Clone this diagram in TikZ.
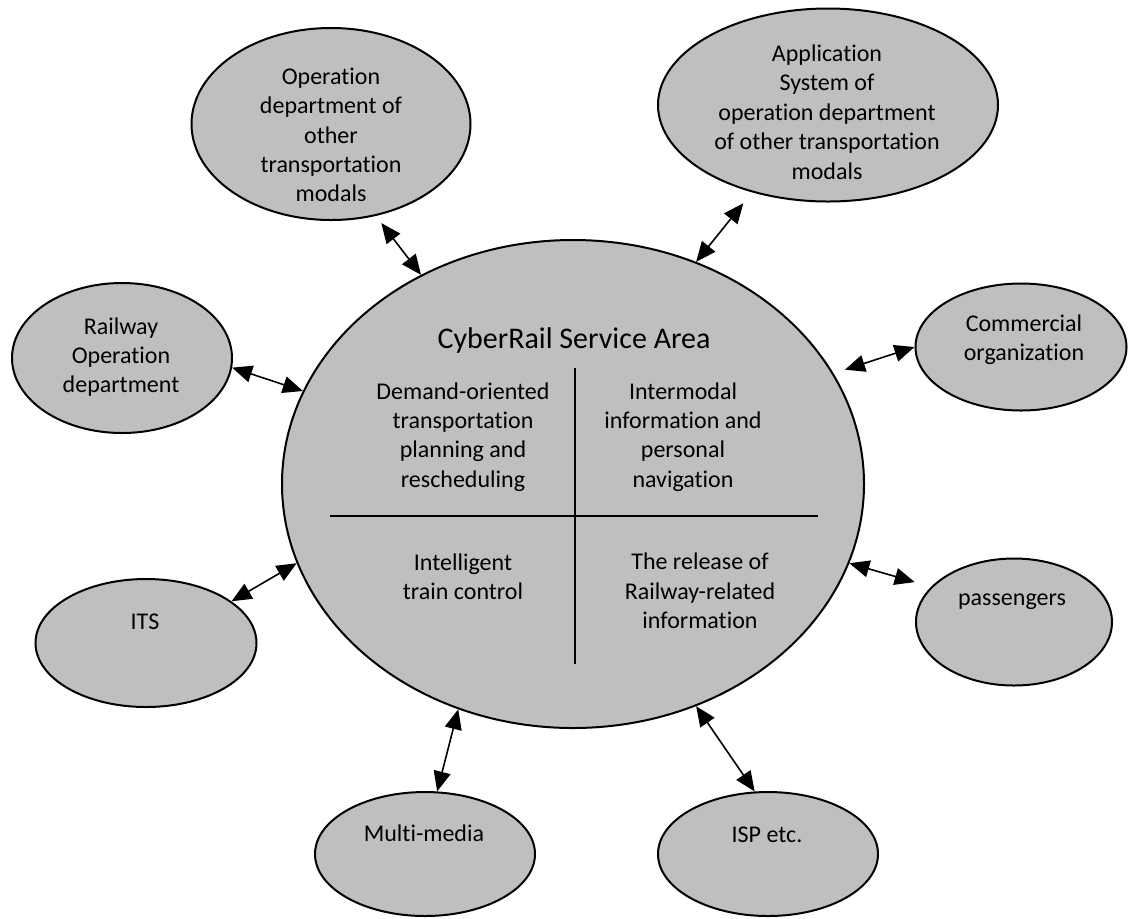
\documentclass[tikz,border=0pt]{standalone}
\usepackage{fontspec}
\setmainfont{Carlito}[Ligatures={NoCommon,NoContextual}]
\usetikzlibrary{shapes.geometric,arrows.meta}

\begin{document}
\begin{tikzpicture}[x=0.5pt,y=-0.5pt,font=\fontsize{12}{14.7}\selectfont,line width=0.5pt,
  bubble/.style={ellipse,draw=black,line width=1pt,fill=areagray,inner sep=0pt},
  caption/.style={align=center,inner sep=0pt},
  link/.style={{Triangle[length=10pt,width=8.5pt]}-{Triangle[length=10pt,width=8.5pt]},line width=0.8pt}]
  \definecolor{areagray}{HTML}{BFBFBF}
  \useasboundingbox (0,0) rectangle (1130,918);
  % service area in the middle
  \node[bubble,minimum width=291pt,minimum height=244pt] (cyber) at (573,484) {};
  \draw[line width=1.4pt] (330,516) -- (818,516);
  \draw[line width=1.4pt] (575,368) -- (575,664);
  \node[caption,font=\fontsize{15}{18}\selectfont] (title) at (574,340) {CyberRail Service Area};
  \node[caption] (demand) at (463,437) {Demand-oriented\\transportation\\planning and\\rescheduling};
  \node[caption] (intermodal) at (683,437) {Intermodal\\information and\\personal\\navigation};
  \node[caption] (control) at (463,577) {Intelligent\\train control};
  \node[caption] (release) at (700,591) {The release of\\Railway-related\\information};
  % partners round it
  \foreach \n/\x/\y/\w/\h in {opdept/331/124/139.5/96, appsys/828/105/170/96.5,
      railop/122/358/110/75, commorg/1021/347/105.5/63.5, its/146/643/110.5/64,
      pass/1014/622/98/63.5, media/425/854/110/62, isp/768/854/110/62}
    \node[bubble,minimum width=\w pt,minimum height=\h pt] (\n) at (\x,\y) {};
  \node[caption] (opdeptlab) at (331,135) {Operation\\department of\\other\\transportation\\modals};
  \node[caption] (appsyslab) at (827,112) {Application\\System of\\operation department\\of other transportation\\modals};
  \node[caption] (railoplab) at (121,357) {Railway\\Operation\\department};
  \node[caption] (commorglab) at (1024,340) {Commercial\\organization};
  \node[caption] (itslab) at (145,622) {ITS};
  \node[caption] (passlab) at (1012,602) {passengers};
  \node[caption] (medialab) at (424,833) {Multi-media};
  \node[caption] (isplab) at (767,835) {ISP etc.};
  % two-way links
  \foreach \a/\n/\b/\ga/\gb in {126/opdept/-64/0pt/4.5pt, 61/appsys/229/0pt/7pt,
      161/railop/-5/0pt/0pt, 23/commorg/180/6pt/0pt, 196/its/26/0pt/0pt,
      -16/pass/157/0pt/8.5pt, -117/media/79/0pt/0pt, -61/isp/102/0pt/0pt}
    \draw[link,shorten <=\ga,shorten >=\gb] (cyber.\a) -- (\n.\b);
\end{tikzpicture}
\end{document}
